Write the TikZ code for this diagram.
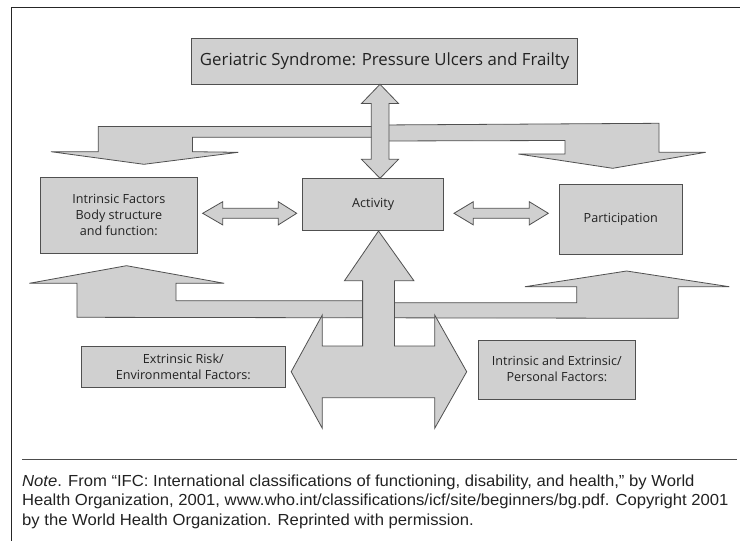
\documentclass[tikz,border=0pt]{standalone}
\usepackage{fontspec}
\setmainfont{Open Sans}
\newfontfamily\notefont[FakeStretch=1.04]{Liberation Sans}
\definecolor{boxfill}{HTML}{D0D0D0}
\definecolor{edge}{HTML}{505050}
\definecolor{txt}{HTML}{222222}
\begin{document}
\begin{tikzpicture}[x=1pt,y=-1pt,
  shapefill/.style={fill=boxfill, draw=edge, line width=0.8pt, line join=miter},
  box/.style={shapefill, rectangle, inner sep=0pt, align=center, text=txt,
    font=\fontsize{12.6}{16}\selectfont},
  notetext/.style={anchor=base west, inner sep=0pt, text=txt,
    font=\notefont\fontsize{16}{19}\selectfont}]
\useasboundingbox (0,0) rectangle (740,541);
\fill[white] (0,0) rectangle (740,541);
% frame and rule
\draw[line width=1pt, color=black!85] (740,7.3) -- (11,7.3) -- (11,541);
\draw[line width=0.9pt, color=black!70] (22,459.3) -- (737,459.3);

% boxes
\node[box, minimum width=386, minimum height=46, font=\fontsize{16.8}{18}\selectfont]
  (top) at (384.7,61.3) {Geriatric Syndrome: Pressure Ulcers and Frailty};
\node[box, minimum width=157.7, minimum height=76] (intr) at (118.85,215.3)
  {Intrinsic Factors\\Body structure\\and function:};
\node[box, minimum width=140.9, minimum height=51.7] (act) at (373.15,204.15) {Activity};
\node[box, minimum width=123, minimum height=70] (part) at (620.8,219) {Participation};
\node[box, minimum width=204.3, minimum height=40.6] (ext) at (183.35,367)
  {Extrinsic Risk/\\Environmental Factors:};
\node[box, minimum width=157.7, minimum height=58.3] (ie) at (556.85,369.85)
  {\raisebox{7pt}{\begin{tabular}{@{}c@{}}Intrinsic and Extrinsic/\\Personal Factors:\end{tabular}}};

% top branching arrow
\draw[shapefill] (98.2,126.5) -- (380,126.5) -- (380,125) -- (659,123.3) -- (659,152.3)
  -- (705.7,152.3) -- (612.7,168.3) -- (518.3,154) -- (565,154) -- (565,140.5)
  -- (380,141) -- (380,137.3) -- (192.5,137.3) -- (192.5,151.7) -- (238.3,152.3)
  -- (143.9,164.3) -- (51,151.7) -- (98.2,151.7) -- cycle;
% vertical double arrow top <-> activity
\draw[shapefill] (380,84.3) -- (398.5,103.5) -- (389,103.5) -- (389,159.3) -- (398.5,159.3)
  -- (380,178.3) -- (361.5,159.3) -- (371.3,159.3) -- (371.3,103.5) -- (361.5,103.5) -- cycle;
% small horizontal double arrows
\draw[shapefill] (202.7,213.3) -- (222.7,201.7) -- (222.7,208.3) -- (278.3,208.3) -- (278.3,201.7)
  -- (296.7,213.3) -- (278.3,224.9) -- (278.3,218.3) -- (222.7,218.3) -- (222.7,224.9) -- cycle;
\draw[shapefill] (454,213.3) -- (473.3,201.7) -- (473.3,208.3) -- (529.3,208.3) -- (529.3,201.7)
  -- (548.3,213.3) -- (529.3,224.9) -- (529.3,218.3) -- (473.3,218.3) -- (473.3,224.9) -- cycle;
% bottom branching arrow
\draw[shapefill] (126.5,265.7) -- (224.2,283.3) -- (176,283.3) -- (176,300.7) -- (378,300.7)
  -- (378,302.7) -- (576.7,302.7) -- (576.7,286.7) -- (525,286.7) -- (626.7,271)
  -- (729.3,286.7) -- (678.3,286.7) -- (678.3,318.3) -- (76.9,317.3) -- (76.9,283.3)
  -- (29.3,283.3) -- cycle;
% up arrow joined with bottom horizontal double arrow
\draw[shapefill] (378.5,231) -- (413.9,280.7) -- (394.4,280.7) -- (394.4,346) -- (434.7,346)
  -- (434.7,315) -- (466.7,371.7) -- (434.7,428.3) -- (434.7,397.7) -- (322.3,397.7)
  -- (322.3,428.3) -- (291.2,371.7) -- (322.3,315) -- (322.3,346) -- (362.6,346)
  -- (362.6,280.7) -- (344.5,280.7) -- cycle;

% note
\node[notetext] (n1) at (22,486) {\textit{Note}. From “IFC: International classifications of functioning, disability, and health,” by World};
\node[notetext] (n2) at (22,505.5) {Health Organization, 2001, www.who.int/classifications/icf/site/beginners/bg.pdf. Copyright 2001};
\node[notetext] (n3) at (22,525) {by the World Health Organization. Reprinted with permission.};
\end{tikzpicture}
\end{document}
